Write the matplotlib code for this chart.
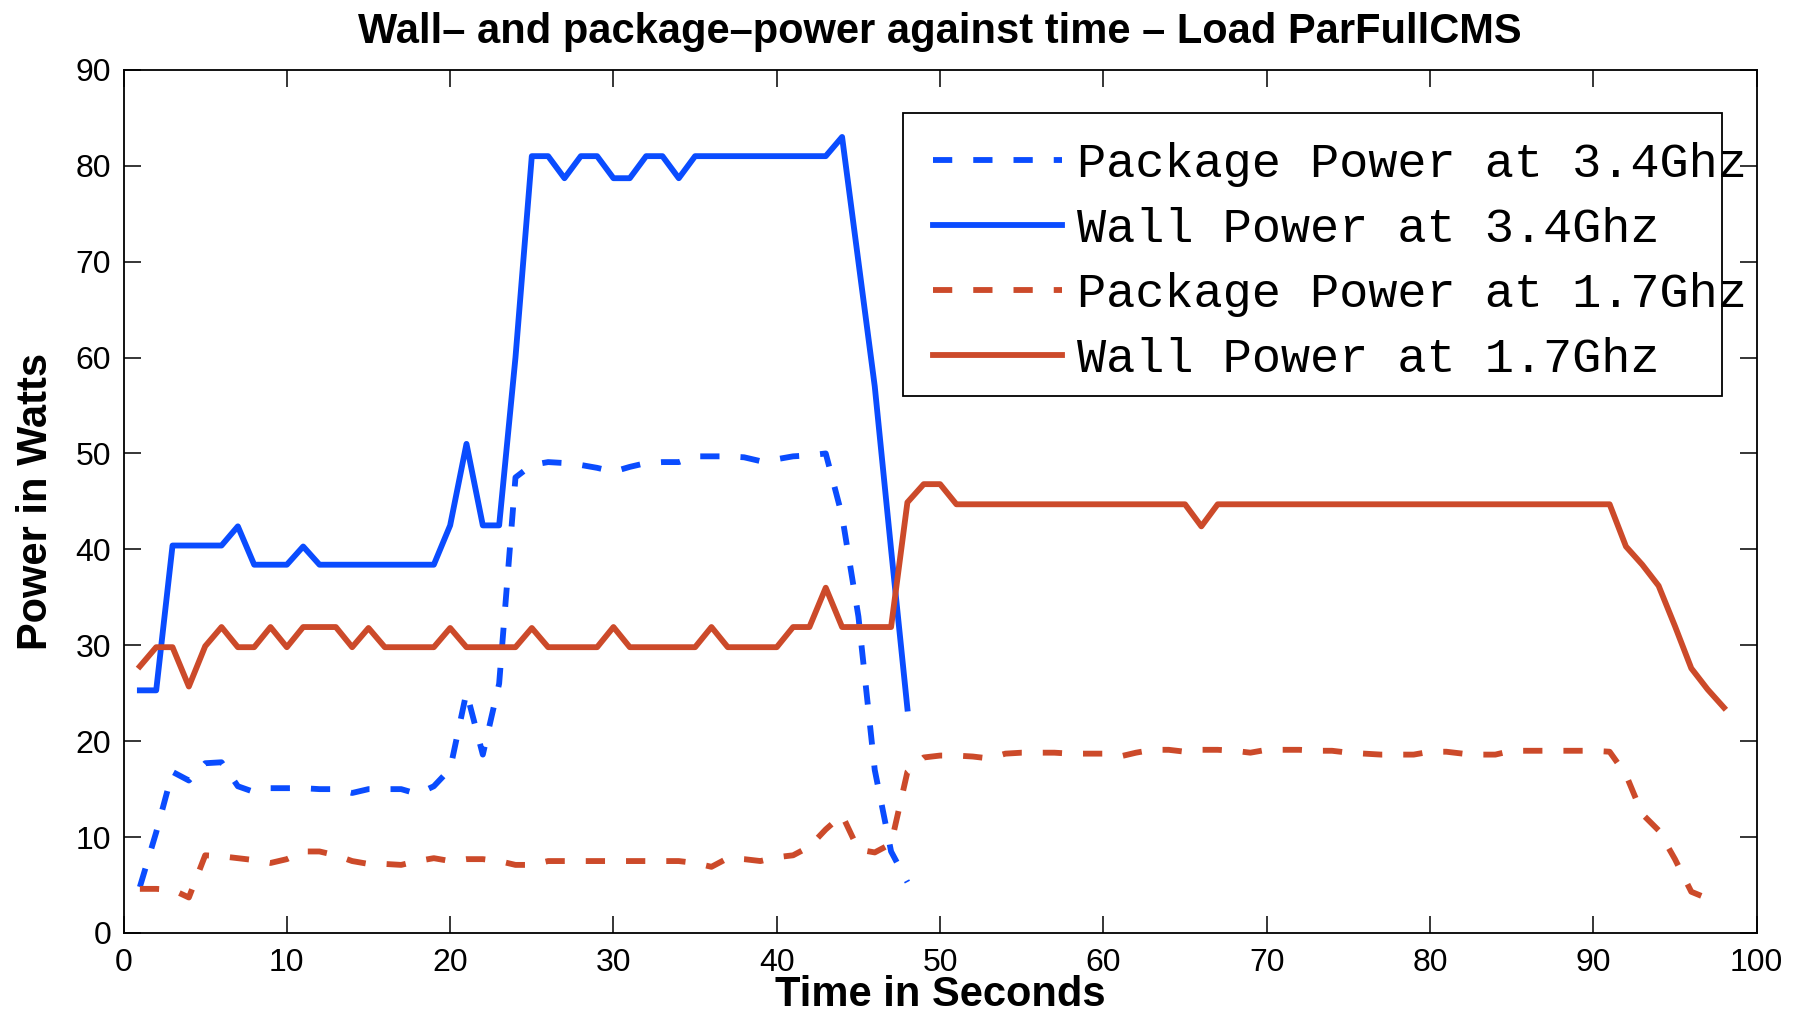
import numpy as np
import matplotlib
matplotlib.use("Agg")
import matplotlib.pyplot as plt
from matplotlib.patches import Rectangle

plt.rcParams['font.family'] = ['Liberation Sans', 'DejaVu Sans']

# time axis (seconds)
t_34 = np.arange(1, 49)
t_17_wall = np.arange(1, 99)
t_17_pkg = np.arange(1, 98)

wall_34 = [25.3, 25.3, 40.4, 40.4, 40.4, 40.4, 42.4, 38.4, 38.4, 38.4,
           40.3, 38.4, 38.4, 38.4, 38.4, 38.4, 38.4, 38.4, 38.4, 42.5,
           51.0, 42.5, 42.5, 60.0, 81.0, 81.0, 78.7, 81.0, 81.0, 78.7,
           78.7, 81.0, 81.0, 78.7, 81.0, 81.0, 81.0, 81.0, 81.0, 81.0,
           81.0, 81.0, 81.0, 83.0, 70.0, 57.0, 40.0, 23.4]

pkg_34 = [4.8, 10.5, 16.8, 15.9, 17.7, 17.8, 15.3, 14.7, 15.1, 15.1,
          15.1, 15.0, 15.0, 14.6, 15.0, 15.0, 15.0, 14.5, 15.3, 17.1,
          25.1, 18.6, 26.0, 47.5, 48.8, 49.1, 49.0, 48.8, 48.5, 48.1,
          48.6, 49.0, 49.1, 49.1, 49.7, 49.7, 49.7, 49.6, 49.2, 49.4,
          49.7, 49.8, 50.0, 43.5, 33.0, 17.0, 8.5, 5.3]

wall_17 = [27.8, 29.8, 29.8, 25.7, 29.9, 31.9, 29.8, 29.8, 31.9, 29.8,
           31.9, 31.9, 31.9, 29.8, 31.8, 29.8, 29.8, 29.8, 29.8, 31.8,
           29.8, 29.8, 29.8, 29.8, 31.8, 29.8, 29.8, 29.8, 29.8, 31.9,
           29.8, 29.8, 29.8, 29.8, 29.8, 31.9, 29.8, 29.8, 29.8, 29.8,
           31.9, 31.9, 36.0, 31.9, 31.9, 31.9, 31.9, 44.9, 46.8, 46.8,
           44.7, 44.7, 44.7, 44.7, 44.7, 44.7, 44.7, 44.7, 44.7, 44.7,
           44.7, 44.7, 44.7, 44.7, 44.7, 42.4, 44.7, 44.7, 44.7, 44.7,
           44.7, 44.7, 44.7, 44.7, 44.7, 44.7, 44.7, 44.7, 44.7, 44.7,
           44.7, 44.7, 44.7, 44.7, 44.7, 44.7, 44.7, 44.7, 44.7, 44.7,
           44.7, 40.3, 38.4, 36.2, 32.0, 27.6, 25.4, 23.5]

pkg_17 = [4.6, 4.6, 4.5, 3.7, 8.1, 8.0, 7.8, 7.6, 7.3, 7.7,
          8.5, 8.5, 8.1, 7.5, 7.2, 7.2, 7.1, 7.5, 7.8, 7.5,
          7.7, 7.7, 7.5, 7.1, 7.1, 7.5, 7.5, 7.5, 7.5, 7.5,
          7.5, 7.5, 7.5, 7.5, 7.3, 6.9, 7.8, 7.7, 7.5, 7.9,
          8.1, 9.0, 10.8, 12.3, 8.7, 8.4, 9.3, 16.8, 18.3, 18.5,
          18.5, 18.4, 18.2, 18.7, 18.8, 18.8, 18.8, 18.7, 18.7, 18.7,
          18.4, 18.8, 19.1, 19.1, 18.9, 19.1, 19.1, 19.0, 18.8, 19.1,
          19.1, 19.1, 19.0, 19.0, 18.8, 18.7, 18.6, 18.6, 18.6, 18.9,
          18.9, 18.7, 18.6, 18.6, 19.0, 19.0, 19.0, 19.0, 19.0, 19.0,
          18.9, 16.5, 12.4, 10.7, 7.7, 4.3, 3.6]

blue = '#0a4cff'
red = '#cc4a2a'
lw = 4.2
dash = (3.3, 3.6)

fig = plt.figure(figsize=(17.93, 10.15), dpi=100)
ax = fig.add_axes([0.0689, 0.0808, 0.9108, 0.8504])

ax.plot(t_34, pkg_34, color=blue, lw=lw, ls='--', dashes=dash, label='Package Power at 3.4Ghz')
ax.plot(t_34, wall_34, color=blue, lw=lw, label='Wall Power at 3.4Ghz')
ax.plot(t_17_pkg, pkg_17, color=red, lw=lw, ls='--', dashes=dash, label='Package Power at 1.7Ghz')
ax.plot(t_17_wall, wall_17, color=red, lw=lw, label='Wall Power at 1.7Ghz')

ax.set_xlim(0, 100)
ax.set_ylim(0, 90)
ax.set_xticks(np.arange(0, 101, 10))
ax.set_yticks(np.arange(0, 91, 10))
ax.tick_params(direction='in', top=True, right=True, length=12, width=1.1,
               labelsize=23)
ax.tick_params(axis='x', pad=11)
ax.tick_params(axis='y', pad=9)
for s in ax.spines.values():
    s.set_linewidth(1.3)

ax.set_title('Wall\u2013 and package\u2013power against time \u2013 Load ParFullCMS',
             fontsize=30, fontweight='bold', pad=19)
ax.set_xlabel('Time in Seconds', fontsize=30, fontweight='bold', labelpad=-2)
ax.set_ylabel('Power in Watts', fontsize=30, fontweight='bold', labelpad=14)

# legend box drawn separately: the labels spill past its right edge, as in the original
box = Rectangle((0.4776, 0.6225), 0.5014, 0.3272, transform=ax.transAxes,
                facecolor='white', edgecolor='black', lw=1.3, zorder=4.9)
ax.add_patch(box)
leg = ax.legend(loc='upper left', bbox_to_anchor=(0.4776, 0.9497),
                prop={'family': 'Liberation Mono', 'size': 35},
                handlelength=2.66, handletextpad=0.3, borderpad=0.1,
                labelspacing=0.41, frameon=False)

fig.savefig('out.png', dpi=100)
